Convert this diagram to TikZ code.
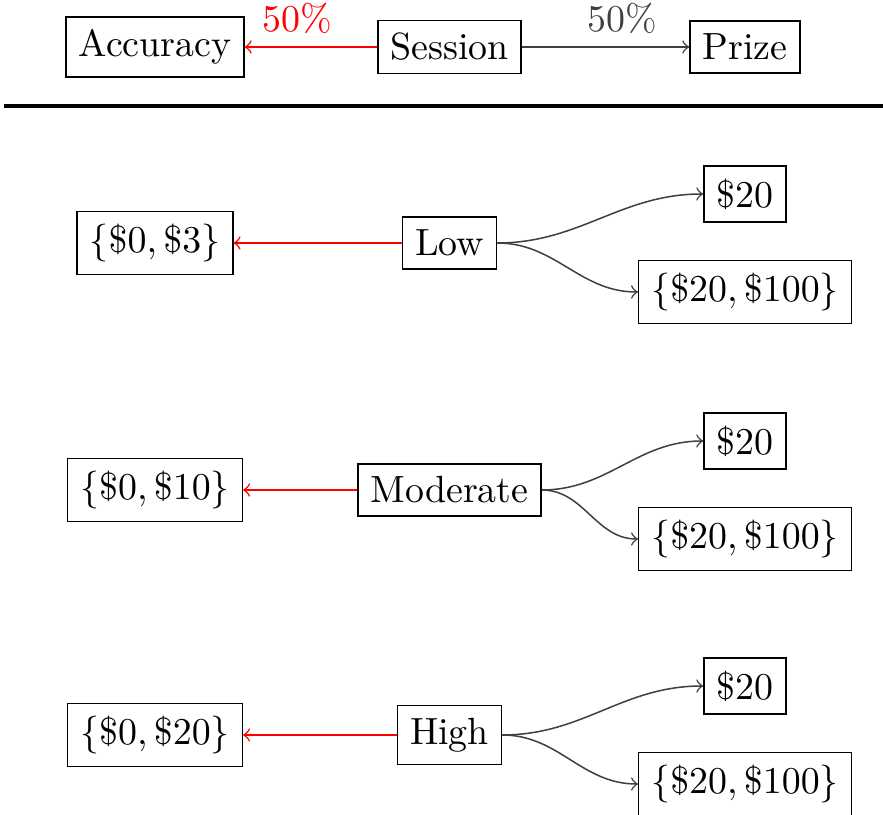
\documentclass[tikz,border=0pt]{standalone}
\begin{document}
\begin{tikzpicture}[x=0.264pt, y=-0.264pt, box/.style={draw}, acc/.style={red, ->}, prz/.style={black!75, ->}]
	\useasboundingbox (0,0) rectangle (883,815);
%top
	\node[box] (Accuracy) at (155,47) {Accuracy};
	\node[box] (Session) at (449.5,47) {Session};
	\node[box] (Prize) at (745,47) {Prize};
	\draw[acc] (Session) -- node[pos=0.6, above] {50\%} (Accuracy);
	\draw[prz] (Session) -- node[pos=0.6, above] {50\%} (Prize);

%rule
	\coordinate (ruleL) at (4,106);
	\coordinate (ruleR) at (883,106);
	\draw[thick] (ruleL) -- (ruleR);

%rows
	\foreach \y/\name/\hi in {243/Low/3, 490/Moderate/10, 735/High/20}{
		\node[box] (\name) at (449.5,\y) {\name};
		\node[box] (\name A) at (155,\y) {$\{\$0, \$\hi\}$};
		\node[box] (\name P) at (745,\y-49) {\$20};
		\node[box] (\name Q) at (745,\y+49) {$\{\$20, \$100\}$};
		\draw[acc] (\name) -- (\name A);
		\draw[prz] (\name.east) to[out=0, in=180] (\name P.west);
		\draw[prz] (\name.east) to[out=0, in=180] (\name Q.west);
	}
\end{tikzpicture}
\end{document}
